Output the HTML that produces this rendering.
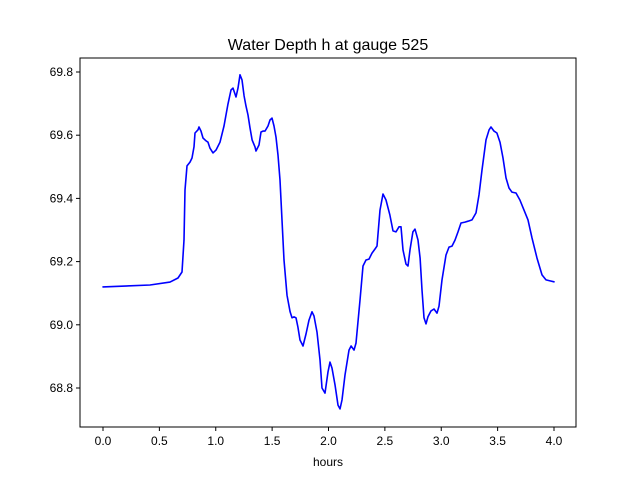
<!DOCTYPE html>
<html><head><meta charset="utf-8"><style>
body{margin:0;background:#fff;font-family:"Liberation Sans","DejaVu Sans",sans-serif}
</style></head><body>
<svg id="chart" width="640" height="480" xmlns="http://www.w3.org/2000/svg"></svg>
<script>
const xTicks=[0,0.5,1,1.5,2,2.5,3,3.5,4];
const xTickLabels=["0.0","0.5","1.0","1.5","2.0","2.5","3.0","3.5","4.0"];
const yTicks=[68.8,69.0,69.2,69.4,69.6,69.8];
const yTickLabels=["68.8","69.0","69.2","69.4","69.6","69.8"];
const times=[0.000,0.417,0.594,0.665,0.701,0.718,0.727,0.745,0.772,0.789,0.807,0.816,0.843,0.851,0.869,0.887,0.914,0.931,0.949,0.976,1.002,1.038,1.073,1.109,1.135,1.153,1.180,1.197,1.215,1.233,1.251,1.268,1.286,1.304,1.322,1.348,1.357,1.384,1.401,1.419,1.437,1.463,1.481,1.499,1.517,1.534,1.552,1.570,1.605,1.632,1.659,1.676,1.694,1.712,1.729,1.747,1.774,1.800,1.827,1.854,1.871,1.898,1.925,1.942,1.969,1.996,2.013,2.031,2.058,2.084,2.102,2.120,2.146,2.182,2.200,2.226,2.244,2.279,2.306,2.333,2.359,2.386,2.412,2.430,2.457,2.483,2.510,2.545,2.572,2.599,2.625,2.643,2.661,2.687,2.705,2.723,2.749,2.767,2.794,2.812,2.829,2.847,2.865,2.882,2.909,2.936,2.962,2.980,3.007,3.042,3.069,3.095,3.122,3.149,3.175,3.211,3.237,3.273,3.308,3.335,3.361,3.397,3.424,3.441,3.468,3.494,3.521,3.548,3.574,3.601,3.627,3.663,3.698,3.734,3.769,3.805,3.849,3.894,3.929,3.965,4.000];
const depth=[69.120,69.126,69.135,69.148,69.167,69.268,69.427,69.503,69.515,69.528,69.563,69.607,69.617,69.626,69.613,69.591,69.582,69.578,69.559,69.544,69.553,69.578,69.629,69.699,69.743,69.749,69.721,69.749,69.791,69.775,69.724,69.692,69.664,69.623,69.585,69.563,69.550,69.569,69.610,69.613,69.613,69.629,69.648,69.654,69.629,69.594,69.537,69.458,69.205,69.094,69.041,69.022,69.025,69.022,68.993,68.952,68.933,68.971,69.015,69.041,69.028,68.977,68.889,68.800,68.784,68.851,68.882,68.863,68.810,68.746,68.734,68.762,68.841,68.920,68.933,68.920,68.942,69.078,69.186,69.205,69.208,69.227,69.240,69.249,69.363,69.414,69.395,69.347,69.297,69.294,69.310,69.310,69.237,69.192,69.186,69.237,69.294,69.303,69.268,69.211,69.110,69.022,69.003,69.025,69.044,69.050,69.037,69.059,69.142,69.221,69.246,69.249,69.268,69.294,69.322,69.325,69.328,69.332,69.354,69.411,69.490,69.585,69.617,69.626,69.613,69.607,69.578,69.528,69.465,69.433,69.420,69.417,69.395,69.363,69.332,69.275,69.211,69.158,69.142,69.139,69.136];

const NS="http://www.w3.org/2000/svg";
const svg=document.getElementById('chart');
const L=80,R=576,T=58,B=427;
const X=t=>103+(t-0)*(554-103)/4;
const Y=h=>72+(69.8-h)*316;
function mk(tag,attrs,parent){const e=document.createElementNS(NS,tag);for(const k in attrs)e.setAttribute(k,attrs[k]);(parent||svg).appendChild(e);return e;}

const title=mk('text',{x:328,y:50,'text-anchor':'middle','font-size':16,fill:'#000'});


title.textContent='Water Depth h at gauge 525';

const pts=times.map((t,i)=>X(t).toFixed(1)+','+Y(depth[i]).toFixed(1)).join(' ');
const line=mk('polyline',{points:pts,fill:'none',stroke:'#0000ff','stroke-width':1.6,'stroke-linejoin':'round','stroke-linecap':'round'});



const frame=mk('rect',{x:L,y:T,width:R-L,height:B-T,fill:'none',stroke:'#000','stroke-width':1});



xTicks.forEach((v,i)=>{
  const x=X(v);
  const tk=mk('line',{x1:x,y1:B,x2:x,y2:B+4,stroke:'#000'});
  
  
  const lb=mk('text',{x:x,y:B+18,'text-anchor':'middle','font-size':12});
  
  
  lb.textContent=xTickLabels[i];
});
yTicks.forEach((v,i)=>{
  const y=Y(v);
  const tk=mk('line',{x1:L-4,y1:y,x2:L,y2:y,stroke:'#000'});
  
  
  const lb=mk('text',{x:L-7,y:y+4,'text-anchor':'end','font-size':12});
  
  
  lb.textContent=yTickLabels[i];
});
const xt=mk('text',{x:328,y:466,'text-anchor':'middle','font-size':12});


xt.textContent='hours';
</script>
</body></html>
